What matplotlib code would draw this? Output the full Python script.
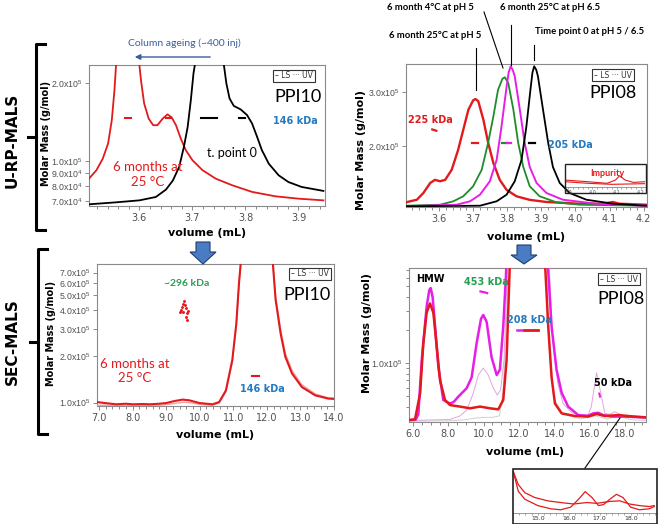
import matplotlib
matplotlib.use('Agg')
import numpy as np
import matplotlib.pyplot as plt
from matplotlib.ticker import FixedLocator, FixedFormatter, MultipleLocator, NullLocator
from matplotlib.patches import Polygon, Rectangle, FancyArrowPatch
from matplotlib.lines import Line2D

# ---- panel A: U-RP-MALS, PPI10 (LS trace as fraction of plot height) ----
a_vol_black = [3.505, 3.556, 3.600, 3.631, 3.650, 3.663, 3.675, 3.684, 3.691, 3.697, 3.702, 3.705,
               3.735, 3.759, 3.764, 3.770, 3.778, 3.791, 3.803, 3.8125, 3.822, 3.831, 3.844,
               3.8625, 3.881, 3.906, 3.947]
a_ls_black = [0.012, 0.026, 0.04, 0.064, 0.116, 0.18, 0.277, 0.42, 0.56, 0.75, 0.94, 1.01,
              2.0, 1.01, 0.87, 0.763, 0.71, 0.685, 0.645, 0.585, 0.49, 0.396, 0.30,
              0.218, 0.17, 0.135, 0.107]
a_vol_red = [3.505, 3.519, 3.531, 3.541, 3.548, 3.553, 3.556, 3.578, 3.600, 3.603, 3.609, 3.6175,
             3.626, 3.634, 3.644, 3.653, 3.661, 3.669, 3.678, 3.6875, 3.700, 3.719, 3.744,
             3.775, 3.8125, 3.856, 3.900, 3.947]
a_ls_red = [0.194, 0.254, 0.336, 0.443, 0.609, 0.822, 1.0, 2.0, 1.0, 0.893, 0.727, 0.62,
            0.573, 0.573, 0.62, 0.65, 0.628, 0.573, 0.479, 0.396, 0.325, 0.254, 0.194,
            0.147, 0.10, 0.069, 0.052, 0.04]
a_mm_red = [(3.572, 3.584), (3.650, 3.659)]
a_mm_black = [(3.716, 3.747), (3.788, 3.800)]
a_mm_value = 146000
a_yticks = [7.0e4, 8.0e4, 9.0e4, 1.0e5, 2.0e5]

# ---- panel B: U-RP-MALS, PPI08 ----
b_vol_red = [3.503, 3.535, 3.554, 3.574, 3.588, 3.603, 3.618, 3.637, 3.656, 3.671, 3.686, 3.700,
             3.707, 3.715, 3.730, 3.744, 3.759, 3.778, 3.798, 3.827, 3.866, 3.915, 4.012,
             4.080, 4.110, 4.129, 4.207]
b_ls_red = [0.033, 0.051, 0.098, 0.168, 0.19, 0.18, 0.19, 0.26, 0.40, 0.54, 0.68, 0.746,
            0.755, 0.74, 0.61, 0.45, 0.31, 0.19, 0.12, 0.075, 0.05, 0.035, 0.023,
            0.023, 0.035, 0.023, 0.016]
b_vol_green = [3.503, 3.603, 3.642, 3.671, 3.700, 3.725, 3.744, 3.759, 3.773, 3.786, 3.793, 3.803,
               3.818, 3.832, 3.847, 3.866, 3.895, 3.944, 4.012, 4.207]
b_ls_green = [0.009, 0.016, 0.04, 0.075, 0.145, 0.26, 0.45, 0.63, 0.82, 0.897, 0.907, 0.867,
              0.68, 0.45, 0.28, 0.145, 0.075, 0.033, 0.016, 0.009]
b_vol_mag = [3.503, 3.652, 3.691, 3.720, 3.749, 3.769, 3.783, 3.798, 3.804, 3.810, 3.816, 3.822,
             3.837, 3.851, 3.866, 3.886, 3.915, 3.963, 4.060, 4.207]
b_ls_mag = [0.005, 0.016, 0.04, 0.086, 0.18, 0.33, 0.56, 0.84, 0.94, 0.984, 0.96, 0.914,
            0.68, 0.45, 0.28, 0.168, 0.098, 0.051, 0.023, 0.009]
b_vol_black = [3.503, 3.720, 3.769, 3.798, 3.822, 3.842, 3.856, 3.869, 3.874, 3.879, 3.885, 3.890,
               3.905, 3.920, 3.934, 3.954, 3.983, 4.032, 4.110, 4.207]
b_ls_black = [0.005, 0.009, 0.04, 0.086, 0.18, 0.33, 0.56, 0.84, 0.94, 0.984, 0.96, 0.914,
              0.68, 0.45, 0.28, 0.168, 0.098, 0.051, 0.023, 0.009]
b_mm_red = [(3.697, 3.715, 205000), (3.580, 3.592, 227000)]
b_mm_green = [(3.785, 3.798, 205000)]
b_mm_mag = [(3.798, 3.810, 205000)]
b_mm_black = [(3.865, 3.880, 205000)]
b_yticks = [2.0e5, 3.0e5]
# impurity inset of panel B
bi_vol_1 = [3.886, 3.982, 4.060, 4.095, 4.113, 4.136, 4.170, 4.218]
bi_sig_1 = [0.30, 0.23, 0.16, 0.30, 0.49, 0.30, 0.20, 0.23]
bi_vol_2 = [3.886, 3.982, 4.080, 4.218]
bi_sig_2 = [0.23, 0.16, 0.116, 0.145]

# ---- panel C: SEC-MALS, PPI10 ----
c_vol = [6.93, 7.20, 7.52, 7.80, 8.01, 8.30, 8.51, 8.80, 9.00, 9.25, 9.49, 9.69, 9.99, 10.20,
         10.38, 10.58, 10.78, 10.97, 11.09, 11.17, 11.22, 11.70, 12.18, 12.26, 12.41, 12.55,
         12.75, 13.04, 13.44, 13.83, 14.0]
c_ls = [0.028, 0.02, 0.012, 0.016, 0.012, 0.014, 0.012, 0.016, 0.021, 0.035, 0.045, 0.04, 0.021,
        0.016, 0.012, 0.028, 0.11, 0.323, 0.58, 0.866, 1.0, 2.0, 1.0, 0.75, 0.51, 0.347,
        0.229, 0.134, 0.075, 0.052, 0.05]
c_uv = [0.005, 0.005, 0.004, 0.004, 0.004, 0.005, 0.005, 0.006, 0.01, 0.018, 0.026, 0.024, 0.012,
        0.008, 0.006, 0.02, 0.10, 0.31, 0.57, 0.86, 1.0, 2.0, 1.0, 0.77, 0.54, 0.37,
        0.25, 0.15, 0.085, 0.058, 0.055]
c_mm_vol = [9.52, 9.50, 9.48, 9.45, 9.50, 9.58, 9.62, 9.60, 9.65, 9.63, 9.42, 9.56]
c_mm = [4.6e5, 4.4e5, 4.2e5, 4.0e5, 3.9e5, 4.1e5, 3.8e5, 3.6e5, 3.95e5, 3.45e5, 3.85e5, 4.3e5]
c_mm_main = (11.55, 11.77, 148000)
c_yticks = [1.0e5, 2.0e5, 3.0e5, 4.0e5, 5.0e5, 6.0e5, 7.0e5]

# ---- panel D: SEC-MALS, PPI08 ----
d_vol_red = [5.77, 6.11, 6.40, 6.58, 6.77, 6.96, 7.15, 7.34, 7.53, 7.81, 8.09, 8.66, 9.23, 9.79,
             10.36, 10.83, 11.11, 11.30, 11.49, 12.5, 13.47, 13.66, 13.85, 14.04, 14.42, 15.17,
             15.92, 16.40, 16.87, 17.62, 18.56, 19.2]
d_ls_red = [0.013, 0.017, 0.186, 0.51, 0.71, 0.77, 0.71, 0.49, 0.27, 0.143, 0.11, 0.10, 0.089,
            0.10, 0.089, 0.082, 0.143, 0.40, 1.05, 2.0, 1.05, 0.62, 0.29, 0.12, 0.056, 0.039,
            0.035, 0.052, 0.039, 0.045, 0.035, 0.03]
d_vol_mag = [5.77, 6.15, 6.30, 6.49, 6.77, 6.92, 7.00, 7.11, 7.25, 7.43, 7.71, 8.09, 8.30, 8.56,
             9.04, 9.32, 9.60, 9.85, 9.98, 10.17, 10.45, 10.74, 10.92, 11.11, 11.26, 11.30,
             12.5, 13.62, 13.85, 14.13, 14.42, 14.79, 15.36, 15.92, 16.20, 16.49, 16.77,
             17.24, 18.0, 19.2]
d_ls_mag = [0.012, 0.015, 0.05, 0.40, 0.75, 0.857, 0.87, 0.81, 0.62, 0.36, 0.143, 0.12, 0.13,
            0.164, 0.22, 0.29, 0.51, 0.67, 0.695, 0.65, 0.42, 0.305, 0.34, 0.62, 0.94, 1.05,
            2.0, 1.05, 0.62, 0.34, 0.19, 0.10, 0.045, 0.04, 0.056, 0.06, 0.045,
            0.035, 0.035, 0.03]
d_vol_pink = [5.77, 8.09, 8.66, 9.04, 9.41, 9.70, 9.98, 10.26, 10.55, 10.77, 10.96, 11.15, 11.30,
              11.35, 12.5, 13.70, 13.9, 14.2, 14.5, 15.0, 15.5, 15.92, 16.10, 16.40, 16.64,
              16.87, 17.15, 17.43, 17.70, 18.2, 19.2]
d_uv_pink = [0.009, 0.017, 0.039, 0.078, 0.186, 0.305, 0.35, 0.305, 0.22, 0.175, 0.21, 0.40,
             0.84, 1.05, 2.0, 1.05, 0.55, 0.25, 0.12, 0.06, 0.045, 0.045, 0.10, 0.32, 0.186,
             0.056, 0.05, 0.067, 0.052, 0.03, 0.025]
d_vol_gray = [5.77, 8.0, 9.0, 9.5, 10.0, 10.5, 10.9, 11.1, 11.3, 11.4, 12.5, 13.5, 13.7, 14.0,
              14.5, 15.5, 16.3, 17.0, 17.6, 18.3, 19.2]
d_uv_gray = [0.005, 0.008, 0.015, 0.025, 0.03, 0.03, 0.04, 0.2, 0.7, 1.05, 2.0, 1.05, 0.5, 0.15,
             0.05, 0.02, 0.04, 0.02, 0.04, 0.015, 0.01]
d_mm_453_vol = [9.82, 9.95, 10.10, 10.20]
d_mm_453 = [4.5e5, 4.45e5, 4.4e5, 4.35e5]
d_mm_208_vol = [11.9, 13.1]
d_mm_208 = [2.0e5, 2.0e5]
d_mm_50_vol = [16.56, 16.60]
d_mm_50 = [5.3e4, 5.0e4]
d_yticks_minor = [4e4, 5e4, 6e4, 7e4, 8e4, 9e4, 2e5, 3e5, 4e5, 5e5, 6e5, 7e5]
# zoom inset of panel D
e_vol_ls = [14.21, 14.37, 14.58, 14.9, 15.32, 15.85, 16.16, 16.59, 16.9, 17.33, 17.65, 17.96,
            18.28, 18.6, 18.76]
e_ls = [0.985, 0.68, 0.485, 0.37, 0.29, 0.24, 0.215, 0.25, 0.23, 0.277, 0.29, 0.215,
        0.177, 0.154, 0.177]
e_vol_uv = [14.21, 14.37, 14.58, 15.0, 15.42, 15.74, 16.06, 16.32, 16.53, 16.75, 16.96, 17.12,
            17.33, 17.54, 17.75, 18.0, 18.28, 18.6, 18.76]
e_uv = [0.985, 0.52, 0.33, 0.177, 0.1, 0.077, 0.138, 0.33, 0.51, 0.37, 0.177, 0.2,
        0.33, 0.446, 0.37, 0.138, 0.077, 0.1, 0.154]

RED = '#e31a1c'
MAG = '#e81ee8'
GREEN = '#1e8c2a'
BLUE_TXT = '#2479c2'
GREEN_TXT = '#25a050'
CAL = ['Lato', 'DejaVu Sans']

W, H = 658, 524
fig = plt.figure(figsize=(W / 100, H / 100), dpi=100)


def make_axes(l, t, r, b):
    return fig.add_axes([l / W, 1 - b / H, (r - l) / W, (b - t) / H])


def ftext(x, y, s, **kw):
    kw.setdefault('ha', 'center')
    kw.setdefault('va', 'center')
    return fig.text(x / W, 1 - y / H, s, **kw)


def fline(xs, ys, **kw):
    fig.add_artist(Line2D([x / W for x in xs], [1 - y / H for y in ys], **kw))


def sci(v):
    e = int(np.floor(np.log10(v) + 1e-9))
    return r'$\mathregular{%.1fx10^{%d}}$' % (v / 10 ** e, e)


def base_axes(ax, xlim, ylim, xmajor, xminor, xfmt):
    ax.set_yscale('log')
    ax.set_xlim(*xlim)
    ax.set_ylim(*ylim)
    ax.xaxis.set_major_locator(MultipleLocator(xmajor))
    ax.xaxis.set_minor_locator(MultipleLocator(xminor))
    ax.xaxis.set_major_formatter(plt.FuncFormatter(lambda v, p: xfmt % v))
    ax.yaxis.set_minor_locator(NullLocator())
    for s in ax.spines.values():
        s.set_color('#8a8a8a')
        s.set_linewidth(0.8)
    ax.tick_params(which='both', direction='out', color='#8a8a8a', labelcolor='#505050',
                   labelsize=7, width=0.7)
    ax.tick_params(axis='y', labelsize=6.3, labelfontfamily='Liberation Sans', pad=1.5)
    ax.tick_params(which='major', length=3)
    ax.tick_params(axis='x', which='major', pad=2)
    ax.tick_params(which='minor', length=2)
    sig = ax.twinx()
    sig.set_ylim(0, 1)
    sig.set_yticks([])
    for s in sig.spines.values():
        s.set_visible(False)
    return sig


def set_yticks(ax, ticks):
    ax.yaxis.set_major_locator(FixedLocator(ticks))
    ax.yaxis.set_major_formatter(FixedFormatter([sci(t) for t in ticks]))


def legend_box(x, y):
    ftext(x, y, '\u2013 LS \u00b7\u00b7\u00b7 UV', fontsize=5.5, color='#333333',
          bbox=dict(boxstyle='square,pad=0.25', fc='white', ec='#333333', lw=0.8))


# ---------------- panel A ----------------
axA = make_axes(89, 65, 325, 206)
sA = base_axes(axA, (3.505, 3.95), (6.7e4, 2.34e5), 0.1, 0.02, '%.1f')
set_yticks(axA, a_yticks)
sA.plot(a_vol_red, a_ls_red, color=RED, lw=1.3)
sA.plot(a_vol_black, a_ls_black, color='black', lw=1.3)
for x0, x1 in a_mm_red:
    axA.plot([x0, x1], [a_mm_value, a_mm_value], color=RED, lw=1.5)
for x0, x1 in a_mm_black:
    axA.plot([x0, x1], [a_mm_value, a_mm_value], color='black', lw=1.5)

ftext(322, 97, 'PPI10', ha='right', fontsize=13, family=CAL)
ftext(295, 121, '146 kDa', fontsize=7, color=BLUE_TXT, weight='bold')
ftext(232, 153, 't. point 0', fontsize=9, family=CAL)
ftext(148, 167, '6 months at', fontsize=9.5, color=RED, family=CAL)
ftext(148, 182, '25 \u00b0C', fontsize=9.5, color=RED, family=CAL)
legend_box(294, 76)
ftext(184, 43, 'Column ageing (~400 inj)', fontsize=7.5, color='#3a5f9c', family=CAL)
fig.add_artist(FancyArrowPatch((213 / W, 1 - 57 / H), (132 / W, 1 - 57 / H),
                               transform=fig.transFigure, arrowstyle='-|>',
                               mutation_scale=8, color='#3a5f9c', lw=1.0))
ftext(46, 133, 'Molar Mass (g/mol)', rotation=90, fontsize=7, weight='bold')
ftext(207, 233, 'volume (mL)', fontsize=8, weight='bold')

# ---------------- panel B ----------------
axB = make_axes(406, 64, 647, 207)
sB = base_axes(axB, (3.503, 4.21), (1.268e5, 3.71e5), 0.1, 0.02, '%.1f')
set_yticks(axB, b_yticks)
sB.plot(b_vol_red, b_ls_red, color=RED, lw=1.7)
sB.plot(b_vol_green, b_ls_green, color=GREEN, lw=1.3)
sB.plot(b_vol_mag, b_ls_mag, color=MAG, lw=1.4)
sB.plot(b_vol_black, b_ls_black, color='black', lw=1.3)
for segs, col in [(b_mm_red, RED), (b_mm_green, GREEN), (b_mm_mag, MAG), (b_mm_black, 'black')]:
    for x0, x1, v in segs:
        axB.plot([x0, x1], [v, v * 0.99 if v > 2.2e5 else v], color=col, lw=1.6)

ftext(430, 7, '6 month 4\u00b0C at pH 5', fontsize=6.8, weight='bold', family=CAL)
ftext(550, 7, '6 month 25\u00b0C at pH 6.5', fontsize=6.8, weight='bold', family=CAL)
ftext(435, 35, '6 month 25\u00b0C at pH 5', fontsize=6.8, weight='bold', family=CAL)
ftext(590, 32, 'Time point 0 at pH 5 / 6.5', fontsize=6.8, weight='bold', family=CAL)
fline([484, 503], [12, 68], color='black', lw=0.8)
fline([511, 511], [25, 65], color='black', lw=0.8)
fline([475.7, 475.7], [48, 90], color='black', lw=0.8)
fline([534, 534], [45, 60], color='black', lw=0.8)
ftext(430, 120, '225 kDa', fontsize=7, color=RED, weight='bold')
ftext(570, 145, '205 kDa', fontsize=7, color=BLUE_TXT, weight='bold')
ftext(637, 93, 'PPI08', ha='right', fontsize=13, family=CAL)
legend_box(613, 75)
ftext(361, 150, 'Molar Mass (g/mol)', rotation=90, fontsize=8, weight='bold')
ftext(526, 237, 'volume (mL)', fontsize=8, weight='bold')

# impurity inset
axBi = make_axes(565, 164, 645, 187)
axBi.set_xlim(3.886, 4.218)
axBi.set_ylim(0, 1)
axBi.set_yticks([])
axBi.set_xticks([3.9, 4.0, 4.1, 4.2])
axBi.set_xticklabels(['3.9', '4.0', '4.1', '4.2'])
axBi.xaxis.set_minor_locator(MultipleLocator(0.02))
axBi.tick_params(which='both', direction='out', labelsize=3.5, pad=0.5, length=1.5,
                 color='#888888', labelcolor='#555555', width=0.5)
for k in ['top', 'left', 'right']:
    axBi.spines[k].set_visible(False)
axBi.spines['bottom'].set_color('#888888')
axBi.spines['bottom'].set_linewidth(0.6)
axBi.plot(bi_vol_1, bi_sig_1, color=RED, lw=0.8)
axBi.plot(bi_vol_2, bi_sig_2, color=RED, lw=0.8)
fig.add_artist(Rectangle((565 / W, 1 - 193 / H), 81 / W, 29 / H, transform=fig.transFigure,
                         fill=False, ec='#222222', lw=1.0))
ftext(607, 173, 'Impurity', fontsize=6.5, color=RED, weight='bold', family=CAL)

# ---------------- panel C ----------------
axC = make_axes(97, 264, 334, 406)
sC = base_axes(axC, (6.94, 14.0), (9.5e4, 7.95e5), 1.0, 0.2, '%.1f')
set_yticks(axC, c_yticks)
sC.plot(c_vol, c_uv, color='#f0a0a0', lw=1.0)
sC.plot(c_vol, c_ls, color=RED, lw=1.5)
axC.plot(c_mm_vol, c_mm, ls='none', marker='.', ms=2.2, color=RED)
axC.plot(c_mm_main[:2], [c_mm_main[2], c_mm_main[2]], color=RED, lw=1.5)

ftext(187, 283, '~296 kDa', fontsize=7.5, color=GREEN_TXT, weight='bold', family=CAL)
ftext(135, 364, '6 months at', fontsize=9.5, color=RED, family=CAL)
ftext(135, 378, '25 \u00b0C', fontsize=9.5, color=RED, family=CAL)
ftext(262, 389, '146 kDa', fontsize=7, color=BLUE_TXT, weight='bold')
ftext(331, 295, 'PPI10', ha='right', fontsize=13, family=CAL)
legend_box(310, 274)
ftext(51, 333, 'Molar Mass (g/mol)', rotation=90, fontsize=7, weight='bold')
ftext(215, 435, 'volume (mL)', fontsize=8, weight='bold')

# ---------------- panel D ----------------
axD = make_axes(409, 268, 646, 422)
sD = base_axes(axD, (5.77, 19.2), (2.93e4, 7.35e5), 2.0, 0.5, '%.1f')
axD.yaxis.set_major_locator(FixedLocator([1e5]))
axD.yaxis.set_major_formatter(FixedFormatter([sci(1e5)]))
axD.yaxis.set_minor_locator(FixedLocator(d_yticks_minor))
sD.plot(d_vol_gray, d_uv_gray, color='#cfcfcf', lw=0.7)
sD.plot(d_vol_pink, d_uv_pink, color='#e2a6dc', lw=0.7)
sD.plot(d_vol_mag, d_ls_mag, color=MAG, lw=1.8)
sD.plot(d_vol_red, d_ls_red, color=RED, lw=1.8)
axD.plot(d_mm_453_vol, d_mm_453, color=MAG, lw=1.6)
axD.plot(d_mm_208_vol, d_mm_208, color=MAG, lw=1.8)
axD.plot([12.3, 13.1], d_mm_208, color=RED, lw=1.8)
axD.plot(d_mm_50_vol, d_mm_50, color=MAG, lw=1.6)

ftext(430, 279, 'HMW', fontsize=7, weight='bold')
ftext(486, 282, '453 kDa', fontsize=7, color=GREEN_TXT, weight='bold')
ftext(529, 320, '208 kDa', fontsize=7, color=BLUE_TXT, weight='bold')
ftext(613, 383, '50 kDa', fontsize=7, weight='bold')
ftext(645, 299, 'PPI08', ha='right', fontsize=13, family=CAL)
legend_box(619, 279)
ftext(367, 333, 'Molar Mass (g/mol)', rotation=90, fontsize=8, weight='bold')
ftext(525, 452, 'volume (mL)', fontsize=8, weight='bold')

# zoom inset below panel D
axE = make_axes(513, 469, 657, 513)
axE.set_xlim(14.2, 18.85)
axE.set_ylim(0, 1.05)
axE.set_yticks([])
axE.set_xticks([15, 16, 17, 18])
axE.set_xticklabels(['15.0', '16.0', '17.0', '18.0'])
axE.xaxis.set_minor_locator(MultipleLocator(0.2))
axE.tick_params(which='both', direction='out', labelsize=4.5, pad=1, length=1.5,
                color='#888888', labelcolor='#333333', width=0.5)
for k in ['top', 'left', 'right']:
    axE.spines[k].set_visible(False)
axE.spines['bottom'].set_color('#888888')
axE.spines['bottom'].set_linewidth(0.6)
axE.plot(e_vol_ls, e_ls, color=RED, lw=0.9)
axE.plot(e_vol_uv, e_uv, color=RED, lw=0.9)
fig.add_artist(Rectangle((513 / W, 0), 144 / W, 1 - 469 / H, transform=fig.transFigure,
                         fill=False, ec='#222222', lw=1.2))
fline([620, 585], [418, 468], color='black', lw=0.8)

# ---------------- left labels, brackets, arrows ----------------
ftext(12, 140, 'U-RP-MALS', rotation=90, fontsize=11, weight='bold')
ftext(12, 342, 'SEC-MALS', rotation=90, fontsize=11, weight='bold')
fline([45, 36, 36, 45], [44, 44, 230, 230], color='black', lw=2.2)
fline([28, 36], [137, 137], color='black', lw=2.2)
fline([47, 38, 38, 47], [249, 249, 434, 434], color='black', lw=2.2)
fline([30, 38], [342, 342], color='black', lw=2.2)

for cx, top, neck in [(203, 242, 252), (524, 245, 255)]:
    pts = [(cx - 7, top), (cx + 7, top), (cx + 7, neck), (cx + 13, neck), (cx, 264),
           (cx - 13, neck), (cx - 7, neck)]
    fig.add_artist(Polygon([(x / W, 1 - y / H) for x, y in pts], closed=True,
                           transform=fig.transFigure, fc='#4a7cc4', ec='#1f3f70', lw=0.8))

fig.savefig('out.png', dpi=100)
